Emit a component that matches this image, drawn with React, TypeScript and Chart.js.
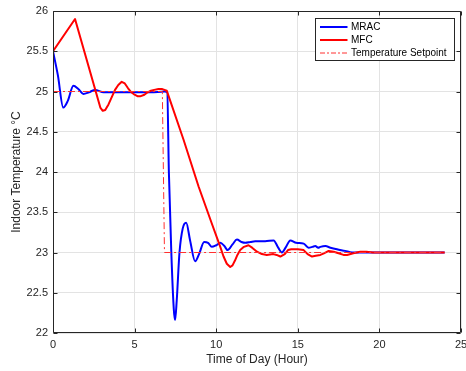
import React, { useEffect, useRef } from 'react';
import { Chart, registerables } from 'chart.js';

Chart.register(...registerables);

// ---- Data ----
const mracX = [0, 0.3, 0.63, 0.9, 1.25, 1.55, 1.86, 2.2, 2.58, 3.1, 4, 5, 6, 6.85, 7.0, 7.1, 7.25, 7.4, 7.48, 7.58, 7.75, 7.95, 8.16, 8.4, 8.71, 8.95, 9.26, 9.5, 9.73, 10.0, 10.25, 10.5, 10.7, 11.0, 11.27, 11.55, 11.78, 12.1, 12.39, 13.0, 13.52, 13.8, 14.03, 14.25, 14.54, 14.9, 15.36, 15.66, 15.9, 16.07, 16.25, 16.38, 16.69, 17.0, 17.4, 17.9, 18.33, 19, 20, 21, 22, 23, 24];
const mracY = [25.5, 25.2, 24.8, 24.88, 25.07, 25.03, 24.97, 24.99, 25.02, 24.99, 24.99, 24.99, 24.99, 25.0, 24.99, 24.0, 23.0, 22.3, 22.16, 22.4, 23.0, 23.3, 23.37, 23.15, 22.89, 22.98, 23.13, 23.12, 23.07, 23.09, 23.12, 23.08, 23.03, 23.1, 23.16, 23.13, 23.12, 23.13, 23.14, 23.14, 23.15, 23.06, 23.0, 23.06, 23.15, 23.12, 23.11, 23.06, 23.07, 23.08, 23.06, 23.07, 23.08, 23.06, 23.04, 23.02, 23.0, 23.0, 23.0, 23.0, 23.0, 23.0, 23.0];

const mfcX = [0, 1.35, 2.9, 3.05, 3.2, 3.4, 3.6, 3.8, 4.0, 4.21, 4.4, 4.6, 4.8, 5.0, 5.2, 5.34, 5.6, 5.8, 6.0, 6.2, 6.46, 6.7, 6.97, 8.0, 8.92, 9.73, 10.25, 10.45, 10.65, 10.86, 11.0, 11.15, 11.3, 11.47, 11.7, 11.98, 12.2, 12.5, 12.8, 13.1, 13.5, 13.7, 13.93, 14.2, 14.4, 14.6, 15.0, 15.36, 15.6, 15.87, 16.1, 16.38, 16.6, 16.89, 17.2, 17.5, 17.8, 18.02, 18.4, 18.83, 19.2, 19.6, 20, 21, 22, 23, 24];
const mfcY = [25.5, 25.9, 24.8, 24.76, 24.77, 24.84, 24.93, 25.02, 25.08, 25.12, 25.1, 25.04, 24.99, 24.96, 24.94, 24.94, 24.96, 24.99, 25.01, 25.02, 25.03, 25.03, 25.01, 24.4, 23.82, 23.36, 23.07, 22.95, 22.86, 22.82, 22.84, 22.9, 22.97, 23.03, 23.07, 23.09, 23.06, 23.01, 22.98, 22.97, 22.98, 22.97, 22.95, 22.98, 23.03, 23.04, 23.04, 23.03, 22.98, 22.95, 22.96, 22.97, 22.99, 23.02, 23.01, 22.99, 22.97, 22.97, 22.99, 23.01, 23.01, 23.0, 23.0, 23.0, 23.0, 23.0, 23.0];

const setpointX = [0, 6.7, 6.83, 24];
const setpointY = [25, 25, 23, 23];

const xTicks = [0, 5, 10, 15, 20, 25];
const yTicks = [22, 22.5, 23, 23.5, 24, 24.5, 25, 25.5, 26];
const seriesNames = ['MRAC', 'MFC', 'Temperature Setpoint'];
const xTitle = 'Time of Day (Hour)';
const yTitle = 'Indoor Temperature °C';

const FONT = '"Liberation Sans", Arial, Helvetica, sans-serif';
const AXIS_COLOR = '#262626';
const BLUE = '#0000ff';
const RED = '#ff0000';
const SET_COLOR = '#ff3030';
const SET_DASH = [7, 3, 2, 3];

const toPts = (xs: number[], ys: number[]) => xs.map((x, i) => ({ x, y: ys[i] }));

const boxPlugin = {
  id: 'matlabBox',
  afterDraw(chart: any) {
    const ctx = chart.ctx as CanvasRenderingContext2D;
    const a = chart.chartArea;
    const xs = chart.scales.x;
    const ys = chart.scales.y;
    const L = Math.round(a.left) + 0.5;
    const R = Math.round(a.right) - 0.5;
    const T = Math.round(a.top) + 0.5;
    const B = Math.round(a.bottom) - 0.5;
    ctx.save();
    ctx.strokeStyle = AXIS_COLOR;
    ctx.lineWidth = 1;
    ctx.beginPath();
    ctx.rect(L, T, R - L, B - T);
    ctx.stroke();
    const tl = 4;
    ctx.beginPath();
    xTicks.forEach((v) => {
      const px = Math.round(xs.getPixelForValue(v)) + 0.5;
      ctx.moveTo(px, B);
      ctx.lineTo(px, B - tl);
      ctx.moveTo(px, T);
      ctx.lineTo(px, T + tl);
    });
    yTicks.forEach((v) => {
      const py = Math.round(ys.getPixelForValue(v)) + 0.5;
      ctx.moveTo(L, py);
      ctx.lineTo(L + tl, py);
      ctx.moveTo(R, py);
      ctx.lineTo(R - tl, py);
    });
    ctx.stroke();

    // Legend
    const bx = Math.round(a.right) - 146 + 0.5;
    const by = Math.round(a.top) + 7 + 0.5;
    const bw = 139;
    const bh = 42;
    ctx.fillStyle = '#ffffff';
    ctx.fillRect(bx, by, bw, bh);
    ctx.strokeStyle = AXIS_COLOR;
    ctx.lineWidth = 1;
    ctx.strokeRect(bx, by, bw, bh);
    const rows = [by + 8, by + 21.5, by + 34.5];
    const colors = [BLUE, RED, SET_COLOR];
    ctx.font = `10px ${FONT}`;
    ctx.textBaseline = 'middle';
    ctx.textAlign = 'left';
    seriesNames.forEach((name, i) => {
      const y = Math.round(rows[i]);
      ctx.beginPath();
      ctx.strokeStyle = colors[i];
      ctx.lineWidth = i === 2 ? 1 : 2;
      ctx.setLineDash(i === 2 ? [5, 2, 2, 2] : []);
      ctx.moveTo(bx + 4.5, y);
      ctx.lineTo(bx + 32, y);
      ctx.stroke();
      ctx.setLineDash([]);
      ctx.fillStyle = '#000000';
      ctx.fillText(name, bx + 35.5, y + 0.5);
    });
    ctx.restore();
  },
};

export default function App() {
  const ref = useRef<HTMLCanvasElement | null>(null);

  useEffect(() => {
    document.body.style.margin = '0';
    const canvas = ref.current;
    if (!canvas) return;
    const chart = new Chart(canvas, {
      type: 'line',
      data: {
        datasets: [
          {
            label: seriesNames[2],
            data: toPts(setpointX, setpointY),
            borderColor: SET_COLOR,
            borderWidth: 1,
            borderDash: SET_DASH,
            pointRadius: 0,
            tension: 0,
            order: 0,
          },
          {
            label: seriesNames[1],
            data: toPts(mfcX, mfcY),
            borderColor: RED,
            borderWidth: 2,
            pointRadius: 0,
            tension: 0,
            borderJoinStyle: 'round',
            order: 1,
          },
          {
            label: seriesNames[0],
            data: toPts(mracX, mracY),
            borderColor: BLUE,
            borderWidth: 2,
            pointRadius: 0,
            cubicInterpolationMode: 'monotone',
            borderJoinStyle: 'round',
            order: 2,
          },
        ],
      },
      options: {
        animation: false,
        responsive: false,
        devicePixelRatio: 1,
        layout: { padding: { left: 0, right: 5, top: 11, bottom: 0 } },
        plugins: {
          legend: { display: false },
          tooltip: { enabled: false },
        },
        scales: {
          x: {
            type: 'linear',
            min: 0,
            max: 25,
            afterBuildTicks: (s: any) => {
              s.ticks = xTicks.map((v) => ({ value: v }));
            },
            afterFit: (s: any) => {
              s.height = 38;
              s.paddingLeft = 0;
              s.paddingRight = 0;
            },
            ticks: {
              autoSkip: false,
              maxRotation: 0,
              padding: 5,
              color: AXIS_COLOR,
              font: { family: FONT, size: 11 },
              callback: (v: any) => String(v),
            },
            grid: { color: '#e3e3e3', lineWidth: 1, drawTicks: false },
            border: { display: false },
            title: {
              display: true,
              text: xTitle,
              color: AXIS_COLOR,
              font: { family: FONT, size: 12 },
              padding: { top: 0, bottom: 4 },
            },
          },
          y: {
            type: 'linear',
            min: 22,
            max: 26,
            afterBuildTicks: (s: any) => {
              s.ticks = yTicks.map((v) => ({ value: v }));
            },
            afterFit: (s: any) => {
              s.width = 53;
              s.paddingTop = 0;
              s.paddingBottom = 0;
            },
            ticks: {
              autoSkip: false,
              padding: 5,
              color: AXIS_COLOR,
              font: { family: FONT, size: 11 },
              callback: (v: any) => String(v),
            },
            grid: { color: '#e3e3e3', lineWidth: 1, drawTicks: false },
            border: { display: false },
            title: {
              display: true,
              text: yTitle,
              color: AXIS_COLOR,
              font: { family: FONT, size: 12 },
              padding: { top: 9, bottom: 0 },
            },
          },
        },
      } as any,
      plugins: [boxPlugin],
    });
    return () => chart.destroy();
  }, []);

  return (
    <div style={{ width: 466, height: 371, background: '#fff' }}>
      <canvas ref={ref} width={466} height={371} style={{ display: 'block' }} />
    </div>
  );
}
